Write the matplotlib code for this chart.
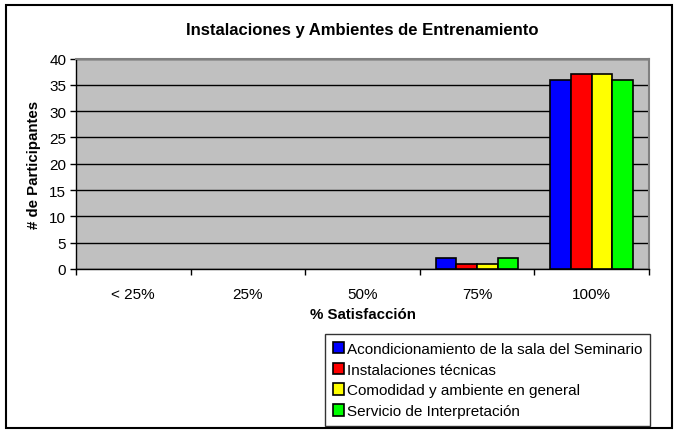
import matplotlib
matplotlib.use("Agg")
import matplotlib.pyplot as plt
from matplotlib.patches import Rectangle, Patch
import numpy as np

# Data
categories = ["< 25%", "25%", "50%", "75%", "100%"]
series_names = [
    "Acondicionamiento de la sala del Seminario",
    "Instalaciones técnicas",
    "Comodidad y ambiente en general",
    "Servicio de Interpretación",
]
acondicionamiento = [0, 0, 0, 2, 36]
instalaciones = [0, 0, 0, 1, 37]
comodidad = [0, 0, 0, 1, 37]
interpretacion = [0, 0, 0, 2, 36]
colors = ["#0000FF", "#FF0000", "#FFFF00", "#00FF00"]

plt.rcParams["font.family"] = ["Liberation Sans", "DejaVu Sans"]

W, H = 685, 431
fig = plt.figure(figsize=(W / 100, H / 100), dpi=100)

# outer chart border
fig.patches.append(Rectangle((6 / W, 2 / H), 666 / W, 423 / H, transform=fig.transFigure,
                             fill=False, edgecolor="black", linewidth=1.5))

ax = fig.add_axes([76 / W, 1 - 270 / H, (649 - 76) / W, (270 - 59.5) / H])
ax.set_facecolor("#C0C0C0")

x = np.arange(len(categories))
bar_w = 0.18
all_series = [acondicionamiento, instalaciones, comodidad, interpretacion]
handles = []
for i, (vals, name, c) in enumerate(zip(all_series, series_names, colors)):
    # empty bars are not drawn at all (no edge line)
    lw = [1.2 if v > 0 else 0 for v in vals]
    ax.bar(x + (i - 1.5) * bar_w, vals, width=bar_w, color=c, edgecolor="black",
           linewidth=lw, zorder=3)
    handles.append(Patch(facecolor=c, edgecolor="black", linewidth=1.2, label=name))

ax.set_xlim(-0.5, len(categories) - 0.5)
ax.set_ylim(0, 40)
ax.set_yticks(range(0, 41, 5))
ax.yaxis.grid(True, color="black", linewidth=1)
ax.set_axisbelow(True)

ax.set_xticks(x)
ax.set_xticklabels(categories, fontsize=11)
ax.set_xticks(np.arange(-0.5, len(categories), 1), minor=True)
ax.tick_params(axis="x", which="major", length=0, pad=13)
ax.tick_params(axis="x", which="minor", length=4, width=1, color="black")
ax.tick_params(axis="y", length=4, width=1, labelsize=11, pad=3)

for s in ["top", "right"]:
    ax.spines[s].set_color("#808080")
    ax.spines[s].set_linewidth(1.5)
ax.spines["left"].set_linewidth(1)
ax.spines["bottom"].set_linewidth(1)

ax.set_title("Instalaciones y Ambientes de Entrenamiento", fontsize=12,
             fontweight="bold", pad=18)
ax.set_xlabel("% Satisfacción", fontsize=10.8, fontweight="bold", labelpad=4)
ax.set_ylabel("# de Participantes", fontsize=10.8, fontweight="bold", labelpad=6)

leg = fig.legend(handles=handles, loc="upper left", bbox_to_anchor=(325 / W, 1 - 335 / H),
                 fontsize=11, frameon=True, fancybox=False, edgecolor="black",
                 handlelength=0.75, handleheight=0.75, handletextpad=0.2,
                 labelspacing=0.45, borderpad=0.5, borderaxespad=0)
leg.get_frame().set_linewidth(1)

fig.savefig("out.png", dpi=100)
